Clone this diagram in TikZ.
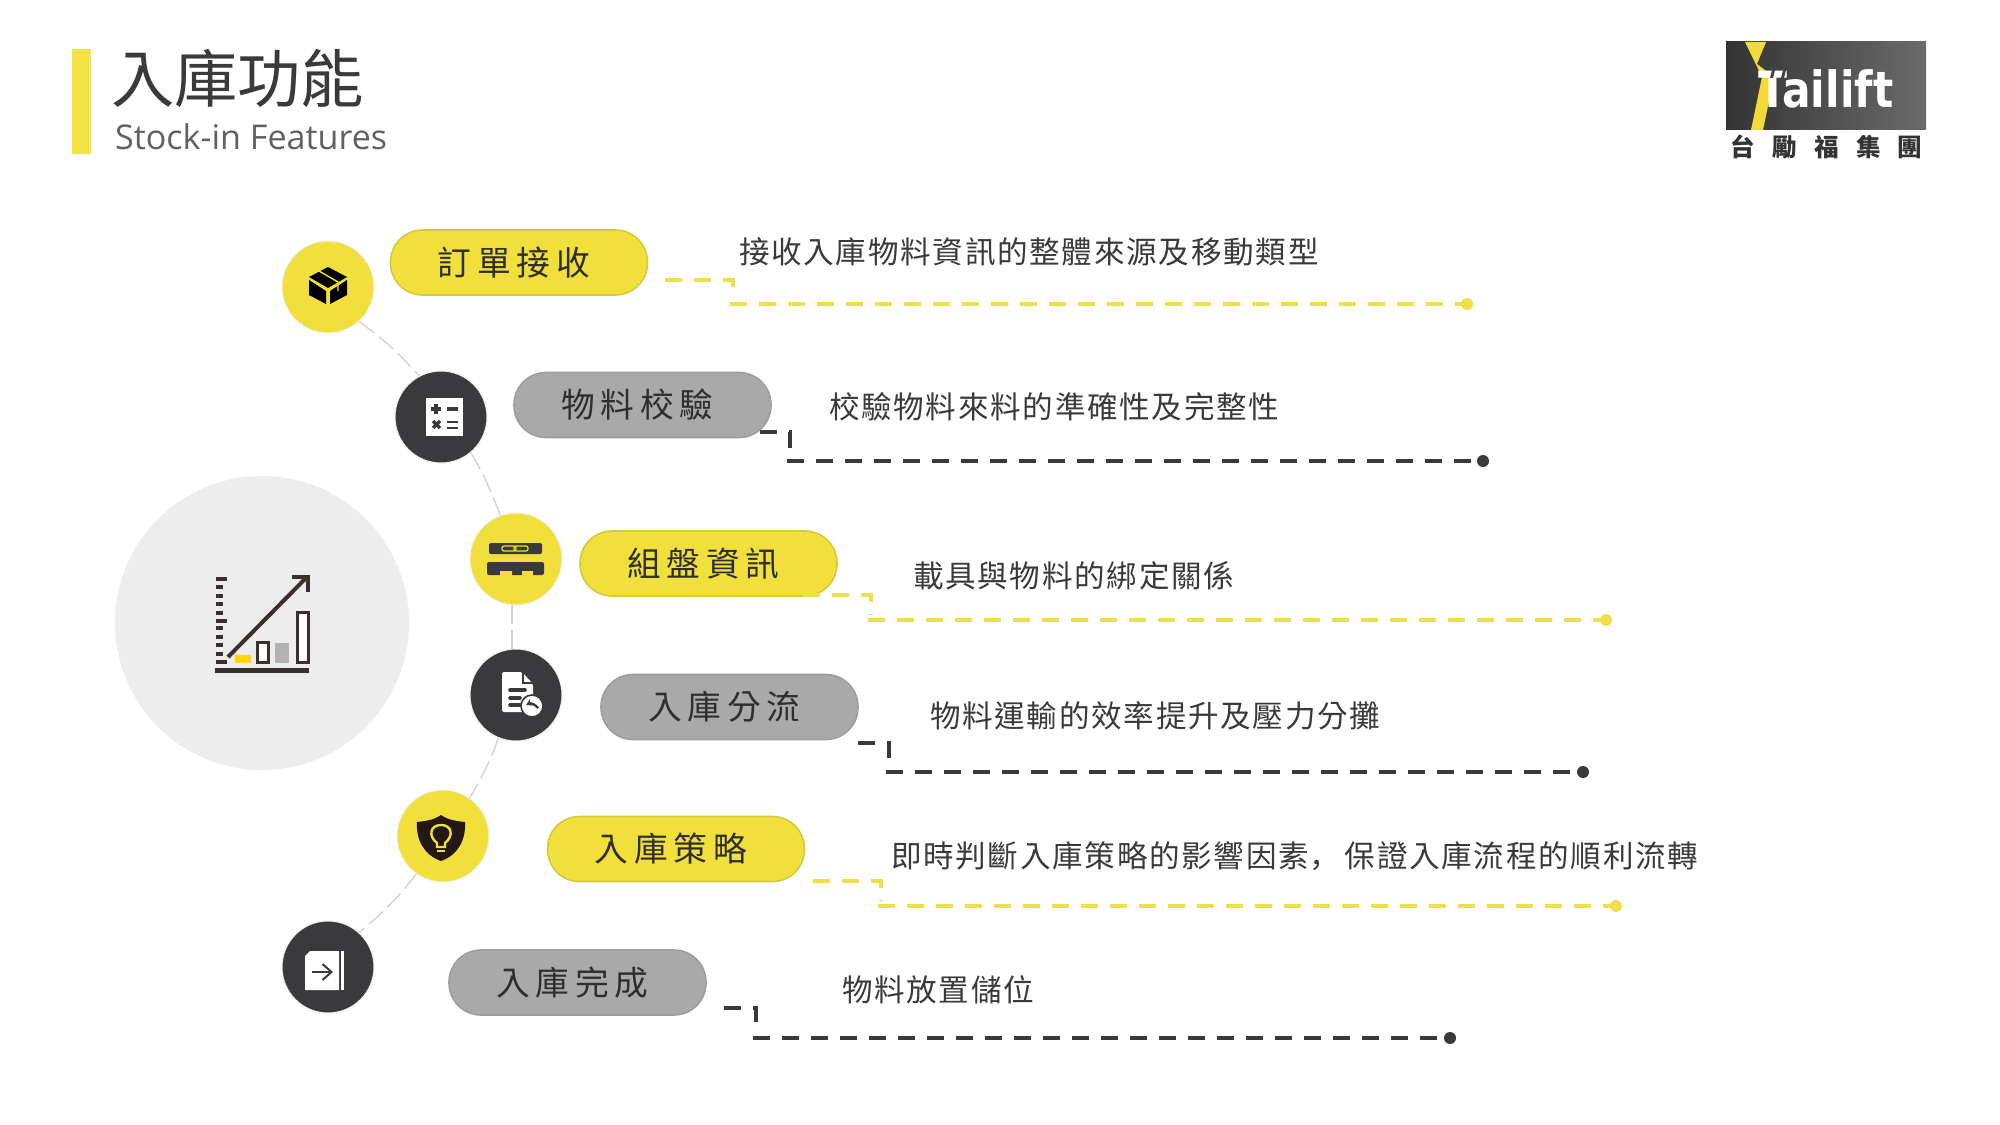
\documentclass[tikz,border=0pt]{standalone}
\usepackage{fontspec}
\usetikzlibrary{arrows.meta}
\setmainfont{Open Sans}
\newfontfamily\cjk{Noto Sans CJK TC}
\newfontfamily\cjksc[LetterSpace=5.6]{Noto Sans CJK SC}
\newfontfamily\cjkpill[LetterSpace=17]{Noto Sans CJK TC}
\newfontfamily\cjkdesc[LetterSpace=5.6]{Noto Sans CJK TC}
\newfontfamily\logofont[FakeStretch=0.85]{DejaVu Sans Bold}
\definecolor{yel}{HTML}{F1DF3B}
\definecolor{yeledge}{HTML}{D8C93E}
\definecolor{yelline}{HTML}{EFE04A}
\definecolor{dark}{HTML}{3A3A3C}
\definecolor{gry}{HTML}{A9A9A9}
\definecolor{gryedge}{HTML}{9E9E9E}
\definecolor{txt}{HTML}{3A3A3A}
\definecolor{ink}{HTML}{231815}
\tikzset{
  x=0.05cm,y=-0.05cm,
  disc/.style={circle,minimum size=4.6cm,inner sep=0pt,draw=black!6,line width=0.05cm},
  ydisc/.style={disc,fill=yel},
  ddisc/.style={disc,fill=dark},
  pill/.style={rectangle,rounded corners=1.6cm,minimum width=12.85cm,minimum height=3.25cm,inner sep=0pt,line width=0.08cm,
    font=\fontsize{48pt}{52pt}\cjkpill,text=black!82,execute at end node={\hspace{0.5cm}}},
  ypill/.style={pill,fill=yel,draw=yeledge},
  gpill/.style={pill,fill=gry,draw=gryedge},
  desc/.style={anchor=west,inner sep=0pt,text=txt,font=\fontsize{43.5pt}{48pt}\cjkdesc},
  arcline/.style={draw=black!17,line width=0.07cm,dash pattern=on 0.95cm off 0.3cm},
  ylead/.style={draw=yelline,line width=0.22cm,dash pattern=on 0.85cm off 0.6cm},
  dlead/.style={draw=dark,line width=0.22cm,dash pattern=on 0.85cm off 0.6cm},
  ydot/.style={circle,fill=yelline,minimum size=0.6cm,inner sep=0pt},
  ddot/.style={circle,fill=dark,minimum size=0.6cm,inner sep=0pt},
}
\begin{document}
\begin{tikzpicture}
\useasboundingbox (0,0) rectangle (2000,1125);
\fill[white] (0,0) rectangle (2000,1125);
% header
\fill[yelline!90!yellow] (72,49) rectangle (91,154);
\node[anchor=west,inner sep=0pt,text=txt,font=\fontsize{90pt}{94pt}\cjk] (title) at (111,78) {入庫功能};
\node[anchor=west,inner sep=0pt,text=black!62,font=\fontsize{48.5pt}{54pt}\selectfont] (sub) at (115,137) {Stock-in Features};
% logo
\shade[left color=black!80,right color=black!58] (1726,42) rectangle (1926,130);
\fill[yel!95!orange] (1745,42) -- (1766,42) -- (1757,64) -- (1774,77) -- (1763,130) -- (1751,130) -- (1762,77) -- cycle;
\node[inner sep=0pt,text=white,font=\fontsize{71pt}{71pt}\logofont] (logotext) at (1826,89) {Tailift};
\fill[black!74] (1772,70) -- (1775,70) -- (1773,78) -- (1770,78) -- cycle
  (1783,70) -- (1786,70) -- (1784,78) -- (1781,78) -- cycle;
\foreach \cx/\ch in {1742.5/台,1785/勵,1826.5/福,1869/集,1910/團}{
  \node[inner sep=0pt,text=black!80,font=\fontsize{35pt}{37pt}\cjk\bfseries] (logo\ch) at (\cx,147) {\ch};
}
% big circle
\node[circle,fill=black!7,minimum size=14.7cm,inner sep=0pt] (hub) at (262,623) {};
% chart icon
\fill[ink!90!white] (215,668) rectangle (309,673);
\foreach \ty/\tw in {579/11,587/7,596/7,604/7,613/7,621/11,628/7,637/7,645/7,654/7,662/11}{
  \fill[ink!90!white] (216,\ty-2) rectangle (216+\tw,\ty+2);
}
\fill[yellow!75!orange] (235,655) rectangle (251,663);
\draw[ink!90!white,fill=white,line width=0.15cm] (257,642) rectangle (268,662);
\fill[black!30] (275,643) rectangle (289,663);
\draw[ink!90!white,fill=white,line width=0.15cm] (297,612) rectangle (308,662);
\draw[ink!90!white,line width=0.2cm] (228,657) -- (306,578);
\draw[ink!90!white,line width=0.2cm] (292,577) -- (308,577) -- (308,592);
% step circles
\node[ydisc] (c1) at (328,287) {};
\node[ddisc] (c2) at (441,417) {};
\node[ydisc] (c3) at (516,559) {};
\node[ddisc] (c4) at (516,695) {};
\node[ydisc] (c5) at (443,836) {};
\node[ddisc] (c6) at (328,967) {};
\draw[arcline] (c1.-48) to[bend left=6] (c2.118);
\draw[arcline] (c2.-50) to[bend left=5] (c3.110);
\draw[arcline] (c3.-95) -- (c4.95);
\draw[arcline] (c4.-112) to[bend left=5] (c5.55);
\draw[arcline] (c5.-125) to[bend left=6] (c6.48);
% icon 1: box
\fill[black] (328,267) -- (347,277) -- (328,288) -- (309,277) -- cycle;
\fill[black] (309,280) -- (326,291) -- (326,304) -- (309,295) -- cycle;
\fill[black] (347,280) -- (330,291) -- (330,304) -- (347,295) -- cycle;
\draw[yel,line width=0.07cm] (319,271) -- (338,282) -- (338,291);
% icon 2: calculator
\fill[white] (426,398) rectangle (463,436);
\draw[dark,line width=0.16cm] (431,409) -- (441,409) (436,404) -- (436,414);
\draw[dark,line width=0.16cm] (447,409) -- (458,409);
\draw[dark,line width=0.16cm] (433,421) -- (440,428) (440,421) -- (433,428);
\draw[dark,line width=0.14cm] (447,422) -- (458,422) (447,428) -- (458,428);
% icon 3: pallet
\fill[dark,rounded corners=0.1cm] (489,543) rectangle (542,554);
\draw[yel,line width=0.06cm,rounded corners=0.1cm] (502,546) rectangle (516,551) (514,546) rectangle (528,551);
\fill[dark,rounded corners=0.1cm] (487,562) rectangle (544,575);
\fill[yel] (500,571) rectangle (512,576) (522,571) rectangle (533,576);
% icon 4: document
\fill[white,rounded corners=0.1cm] (502,672) -- (522,672) -- (533,684) -- (533,712) -- (502,712) -- cycle;
\draw[dark,line width=0.08cm] (523,670) -- (523,683) -- (535,683);
\draw[dark,line width=0.18cm,line cap=round] (510,690) -- (525,690) (510,698) -- (520,698) (510,705) -- (520,705);
\node[circle,fill=white,draw=dark,line width=0.08cm,minimum size=1.1cm,inner sep=0pt] (back) at (532,706) {};
\draw[dark,line width=0.12cm,-{Stealth[length=0.3cm,width=0.35cm]}] (538,708) to[bend right=40] (526,705);
% icon 5: shield
\fill[ink] (441,815) .. controls (448,820) and (456,821) .. (465,822) .. controls (466,840) and (458,855) .. (441,861) .. controls (424,855) and (416,840) .. (417,822) .. controls (426,821) and (434,820) .. (441,815) -- cycle;
\draw[yel,line width=0.12cm] (437,847) -- (437,843) .. controls (428,836) and (430,825) .. (441,825) .. controls (452,825) and (454,836) .. (445,843) -- (445,847) -- cycle;
\draw[yel,line width=0.12cm] (437,851) -- (445,851);
% icon 6: panel with arrow
\fill[white] (305,956) -- (310,951) -- (339,951) -- (339,990) -- (305,990) -- cycle;
\fill[white] (341,951) rectangle (344,990);
\draw[dark,line width=0.1cm,-{Straight Barb[length=0.45cm,width=0.8cm]}] (312,972) -- (333,972);
% pills
\node[ypill] (p1) at (519,262.5) {\raisebox{-1.5pt}{訂單接收}};
\node[gpill] (p2) at (642.5,405) {\raisebox{-1.5pt}{物料校驗}};
\node[ypill] (p3) at (708.5,563.5) {\raisebox{-1.5pt}{組盤資訊}};
\node[gpill] (p4) at (729.5,707) {\raisebox{-1.5pt}{入庫分流}};
\node[ypill] (p5) at (676,849) {\raisebox{-1.5pt}{入庫策略}};
\node[gpill] (p6) at (577.5,982.5) {\raisebox{-1.5pt}{入庫完成}};
% descriptions
\node[desc] (t1) at (739,252) {接收入庫物料資訊的整體來源及移動類型};
\node[desc] (t2) at (829,406.5) {校驗物料來料的準確性及完整性};
\node[desc] (t3) at (913,576) {載具與物料的綁定關係};
\node[desc] (t4) at (930,716) {物料運輸的效率提升及壓力分攤};
\node[desc] (t5) at (891,856.5) {即時判斷入庫策略的影響因素{\cjksc ，}\hspace{0.25cm}保證入庫流程的順利流轉};
\node[desc] (t6) at (842,989.5) {物料放置儲位};
% leader lines
\foreach \n/\sx/\sy/\bx/\ly/\ex/\sty/\dty in {
  1/665/280/733/304/1467/ylead/ydot,
  2/760/432/790/461/1483/dlead/ddot,
  3/803/595/871/620/1606/ylead/ydot,
  4/858/743/889/772/1583/dlead/ddot,
  5/813/881/881/906/1616/ylead/ydot,
  6/724/1008/756/1038/1450/dlead/ddot}{
  \coordinate (s\n) at (\sx,\sy);
  \coordinate (b\n) at (\bx,\sy);
  \coordinate (m\n) at (\bx,\ly-5);
  \coordinate (l\n) at (\bx-3,\ly);
  \node[\dty] (d\n) at (\ex,\ly) {};
  \draw[\sty] (s\n) -- (b\n) -- (m\n);
  \draw[\sty] (l\n) -- (d\n.center);
}
\end{tikzpicture}
\end{document}
